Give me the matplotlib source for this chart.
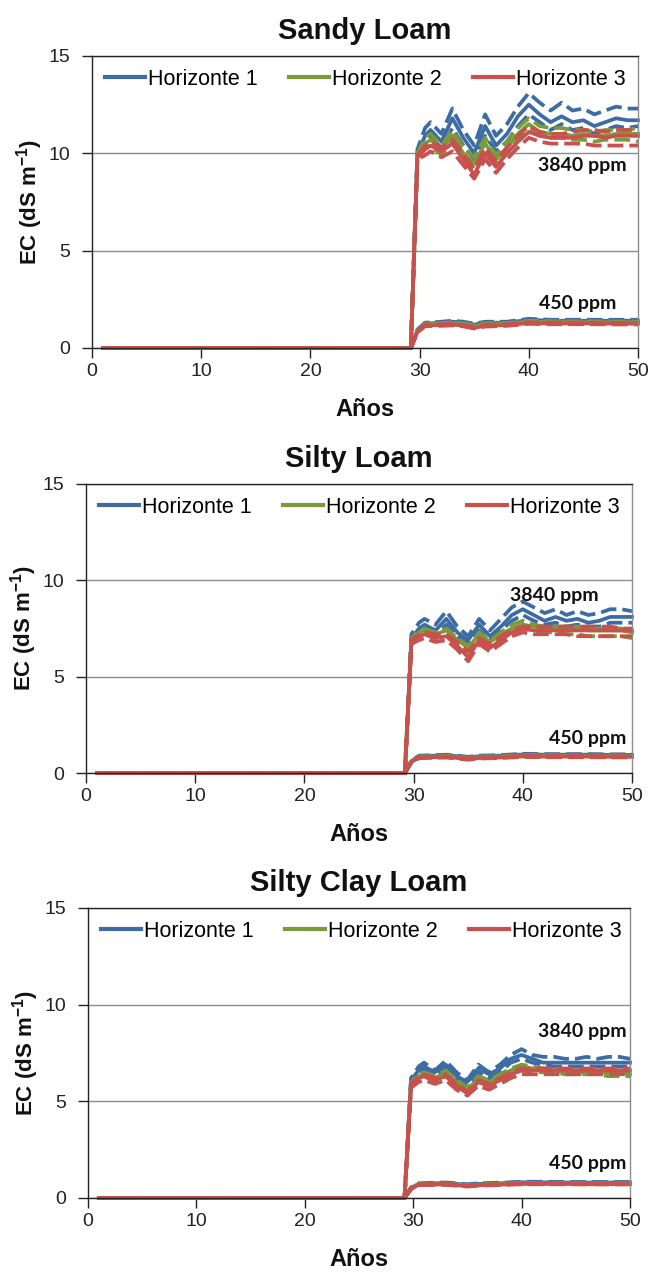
import matplotlib
matplotlib.use("Agg")
import matplotlib.pyplot as plt
from matplotlib.lines import Line2D

# ---------------- data ----------------
years_hi = [1, 29.2, 29.8, 30.5, 31, 32, 33, 34, 35, 36, 37, 38, 39, 40,
            41, 42, 43, 44, 45, 46, 47, 48, 49, 50]
years_lo = [1, 29.2, 29.8, 30.5, 32, 33, 34, 35, 36, 38, 40, 42, 44, 46, 48, 50]

# each list: [lower dashed, solid, upper dashed]
# ---- Sandy Loam, 3840 ppm
sandy_hi_h1 = [
    [0, 0, 9.9, 10.6, 10.8, 10.3, 11.3, 10.4, 9.7, 10.9, 10.1, 10.6, 11.4, 12.0, 11.6, 11.2, 11.5, 11.2, 11.3, 11.0, 11.2, 11.4, 11.3, 11.4],
    [0, 0, 10.0, 10.9, 11.2, 10.6, 11.8, 10.8, 10.0, 11.4, 10.4, 11.0, 11.9, 12.5, 12.0, 11.6, 11.9, 11.6, 11.7, 11.4, 11.6, 11.8, 11.7, 11.7],
    [0, 0, 10.2, 11.3, 11.6, 11.0, 12.3, 11.2, 10.4, 12.0, 10.9, 11.5, 12.4, 13.1, 12.6, 12.2, 12.6, 12.2, 12.3, 12.0, 12.2, 12.4, 12.3, 12.3]]
sandy_hi_h2 = [
    [0, 0, 9.8, 10.3, 10.4, 9.9, 10.6, 9.8, 9.2, 10.2, 9.4, 10.0, 10.7, 11.2, 10.9, 10.8, 10.8, 10.7, 10.7, 10.6, 10.7, 10.7, 10.7, 10.6],
    [0, 0, 9.9, 10.5, 10.7, 10.2, 10.9, 10.0, 9.5, 10.5, 9.7, 10.3, 11.0, 11.5, 11.1, 11.0, 11.0, 10.9, 11.0, 10.9, 10.9, 11.0, 11.0, 11.0],
    [0, 0, 10.0, 10.8, 11.0, 10.4, 11.2, 10.3, 9.8, 10.8, 9.9, 10.6, 11.3, 11.8, 11.4, 11.3, 11.3, 11.2, 11.2, 11.1, 11.2, 11.2, 11.2, 11.3]]
sandy_hi_h3 = [
    [0, 0, 9.7, 9.9, 10.1, 9.8, 10.1, 9.4, 8.7, 9.7, 9.0, 9.7, 10.3, 10.8, 10.6, 10.5, 10.5, 10.5, 10.5, 10.4, 10.4, 10.4, 10.4, 10.4],
    [0, 0, 9.8, 10.2, 10.4, 10.1, 10.5, 9.7, 8.9, 10.0, 9.3, 10.0, 10.6, 11.1, 10.9, 10.8, 10.8, 10.8, 10.9, 10.9, 10.8, 10.9, 10.9, 10.9],
    [0, 0, 9.9, 10.4, 10.6, 10.3, 10.7, 10.0, 9.2, 10.3, 9.6, 10.3, 10.9, 11.4, 11.1, 11.0, 11.0, 11.1, 11.2, 11.2, 11.1, 11.2, 11.2, 11.2]]
# ---- Sandy Loam, 450 ppm
sandy_lo_h1 = [
    [0, 0, 0.85, 1.20, 1.25, 1.30, 1.25, 1.15, 1.25, 1.25, 1.38, 1.35, 1.35, 1.35, 1.35, 1.35],
    [0, 0, 0.90, 1.25, 1.30, 1.35, 1.30, 1.20, 1.30, 1.30, 1.45, 1.40, 1.40, 1.40, 1.40, 1.40],
    [0, 0, 0.95, 1.30, 1.35, 1.40, 1.35, 1.25, 1.35, 1.35, 1.50, 1.45, 1.45, 1.45, 1.45, 1.45]]
sandy_lo_h2 = [
    [0, 0, 0.84, 1.18, 1.21, 1.24, 1.19, 1.09, 1.19, 1.21, 1.31, 1.29, 1.28, 1.28, 1.28, 1.28],
    [0, 0, 0.87, 1.22, 1.25, 1.28, 1.23, 1.13, 1.23, 1.25, 1.35, 1.33, 1.32, 1.32, 1.32, 1.32],
    [0, 0, 0.90, 1.25, 1.28, 1.32, 1.27, 1.17, 1.27, 1.28, 1.40, 1.38, 1.37, 1.37, 1.36, 1.36]]
sandy_lo_h3 = [
    [0, 0, 0.80, 1.12, 1.14, 1.16, 1.11, 1.00, 1.10, 1.14, 1.24, 1.22, 1.22, 1.22, 1.21, 1.21],
    [0, 0, 0.83, 1.16, 1.18, 1.20, 1.15, 1.04, 1.14, 1.18, 1.28, 1.26, 1.26, 1.26, 1.25, 1.25],
    [0, 0, 0.86, 1.20, 1.22, 1.24, 1.19, 1.08, 1.18, 1.22, 1.32, 1.30, 1.30, 1.30, 1.29, 1.29]]

# ---- Silty Loam, 3840 ppm
silty_hi_h1 = [
    [0, 0, 6.9, 7.3, 7.4, 7.2, 7.7, 7.1, 6.7, 7.4, 6.9, 7.4, 7.9, 8.2, 7.9, 7.7, 7.8, 7.6, 7.7, 7.6, 7.6, 7.8, 7.8, 7.8],
    [0, 0, 7.0, 7.5, 7.7, 7.4, 8.0, 7.3, 6.9, 7.7, 7.1, 7.6, 8.2, 8.5, 8.2, 7.9, 8.1, 7.9, 8.0, 7.8, 7.9, 8.1, 8.1, 8.1],
    [0, 0, 7.2, 7.8, 8.0, 7.7, 8.4, 7.6, 7.1, 8.0, 7.4, 8.0, 8.6, 8.9, 8.6, 8.3, 8.5, 8.2, 8.4, 8.2, 8.3, 8.5, 8.5, 8.4]]
silty_hi_h2 = [
    [0, 0, 6.8, 7.1, 7.2, 7.0, 7.2, 6.7, 6.3, 7.0, 6.6, 7.0, 7.3, 7.5, 7.4, 7.3, 7.3, 7.2, 7.2, 7.1, 7.1, 7.1, 7.1, 7.0],
    [0, 0, 6.9, 7.3, 7.4, 7.2, 7.4, 6.9, 6.5, 7.2, 6.8, 7.2, 7.5, 7.7, 7.6, 7.5, 7.5, 7.5, 7.5, 7.4, 7.4, 7.4, 7.4, 7.3],
    [0, 0, 7.0, 7.4, 7.5, 7.3, 7.5, 7.0, 6.6, 7.3, 6.9, 7.3, 7.7, 7.9, 7.7, 7.6, 7.6, 7.6, 7.6, 7.5, 7.5, 7.5, 7.5, 7.4]]
silty_hi_h3 = [
    [0, 0, 6.7, 6.9, 7.0, 6.8, 6.9, 6.4, 5.8, 6.7, 6.3, 6.7, 7.1, 7.3, 7.2, 7.2, 7.2, 7.2, 7.1, 7.1, 7.1, 7.1, 7.1, 7.1],
    [0, 0, 6.8, 7.1, 7.2, 7.0, 7.1, 6.6, 6.0, 6.9, 6.5, 6.9, 7.3, 7.5, 7.4, 7.4, 7.4, 7.4, 7.4, 7.4, 7.4, 7.4, 7.4, 7.4],
    [0, 0, 6.9, 7.2, 7.3, 7.2, 7.2, 6.8, 6.3, 7.0, 6.7, 7.1, 7.4, 7.6, 7.6, 7.6, 7.6, 7.6, 7.6, 7.6, 7.6, 7.6, 7.5, 7.5]]
# ---- Silty Loam, 450 ppm
silty_lo_h1 = [
    [0, 0, 0.59, 0.84, 0.87, 0.89, 0.84, 0.78, 0.84, 0.87, 0.93, 0.92, 0.92, 0.92, 0.91, 0.91],
    [0, 0, 0.62, 0.87, 0.90, 0.92, 0.87, 0.81, 0.87, 0.90, 0.96, 0.95, 0.95, 0.95, 0.94, 0.94],
    [0, 0, 0.65, 0.90, 0.93, 0.95, 0.90, 0.84, 0.90, 0.93, 1.00, 0.98, 0.98, 0.98, 0.97, 0.97]]
silty_lo_h2 = [
    [0, 0, 0.58, 0.80, 0.82, 0.84, 0.79, 0.73, 0.79, 0.82, 0.87, 0.86, 0.86, 0.85, 0.85, 0.85],
    [0, 0, 0.60, 0.83, 0.85, 0.87, 0.82, 0.76, 0.82, 0.85, 0.90, 0.89, 0.89, 0.88, 0.88, 0.88],
    [0, 0, 0.62, 0.86, 0.88, 0.90, 0.85, 0.79, 0.85, 0.88, 0.93, 0.92, 0.92, 0.91, 0.91, 0.91]]
silty_lo_h3 = [
    [0, 0, 0.56, 0.77, 0.79, 0.80, 0.75, 0.69, 0.75, 0.78, 0.83, 0.82, 0.82, 0.82, 0.81, 0.81],
    [0, 0, 0.58, 0.80, 0.82, 0.83, 0.78, 0.72, 0.78, 0.81, 0.86, 0.85, 0.85, 0.85, 0.84, 0.84],
    [0, 0, 0.60, 0.83, 0.85, 0.86, 0.81, 0.75, 0.81, 0.84, 0.89, 0.88, 0.88, 0.88, 0.87, 0.87]]

# ---- Silty Clay Loam, 3840 ppm
clay_hi_h1 = [
    [0, 0, 6.0, 6.5, 6.6, 6.3, 6.7, 6.1, 5.8, 6.5, 6.2, 6.5, 7.0, 7.2, 7.0, 6.9, 6.8, 6.8, 6.8, 6.8, 6.8, 6.8, 6.8, 6.8],
    [0, 0, 6.1, 6.6, 6.8, 6.5, 6.9, 6.3, 6.0, 6.7, 6.4, 6.7, 7.2, 7.4, 7.2, 7.0, 7.0, 7.0, 7.0, 7.0, 7.0, 7.0, 7.0, 7.0],
    [0, 0, 6.2, 6.8, 7.0, 6.6, 7.1, 6.5, 6.1, 6.9, 6.5, 6.9, 7.4, 7.7, 7.4, 7.3, 7.3, 7.2, 7.2, 7.3, 7.2, 7.3, 7.3, 7.2]]
clay_hi_h2 = [
    [0, 0, 5.8, 6.2, 6.3, 6.0, 6.3, 5.8, 5.5, 6.0, 5.8, 6.1, 6.4, 6.6, 6.5, 6.5, 6.5, 6.4, 6.4, 6.4, 6.4, 6.3, 6.3, 6.3],
    [0, 0, 5.9, 6.3, 6.4, 6.2, 6.5, 6.0, 5.6, 6.2, 6.0, 6.3, 6.6, 6.8, 6.7, 6.6, 6.6, 6.5, 6.5, 6.5, 6.5, 6.5, 6.5, 6.4],
    [0, 0, 6.0, 6.4, 6.5, 6.3, 6.6, 6.1, 5.7, 6.3, 6.1, 6.4, 6.7, 6.9, 6.8, 6.7, 6.7, 6.6, 6.6, 6.6, 6.6, 6.6, 6.6, 6.5]]
clay_hi_h3 = [
    [0, 0, 5.7, 6.0, 6.1, 5.9, 6.1, 5.6, 5.3, 5.8, 5.6, 5.9, 6.2, 6.4, 6.4, 6.4, 6.4, 6.4, 6.4, 6.4, 6.4, 6.4, 6.4, 6.4],
    [0, 0, 5.8, 6.2, 6.3, 6.1, 6.3, 5.8, 5.4, 6.0, 5.8, 6.1, 6.4, 6.6, 6.6, 6.6, 6.6, 6.6, 6.6, 6.6, 6.6, 6.6, 6.6, 6.6],
    [0, 0, 5.9, 6.3, 6.4, 6.2, 6.4, 5.9, 5.5, 6.1, 5.9, 6.2, 6.5, 6.7, 6.7, 6.7, 6.7, 6.7, 6.7, 6.7, 6.7, 6.7, 6.7, 6.7]]
# ---- Silty Clay Loam, 450 ppm
clay_lo_h1 = [
    [0, 0, 0.50, 0.70, 0.73, 0.74, 0.70, 0.65, 0.70, 0.73, 0.78, 0.78, 0.77, 0.77, 0.77, 0.77],
    [0, 0, 0.52, 0.73, 0.76, 0.77, 0.73, 0.68, 0.73, 0.76, 0.81, 0.81, 0.80, 0.80, 0.80, 0.80],
    [0, 0, 0.55, 0.76, 0.79, 0.80, 0.76, 0.71, 0.76, 0.79, 0.84, 0.84, 0.83, 0.83, 0.83, 0.83]]
clay_lo_h2 = [
    [0, 0, 0.48, 0.68, 0.70, 0.71, 0.67, 0.62, 0.67, 0.70, 0.74, 0.74, 0.73, 0.73, 0.73, 0.73],
    [0, 0, 0.50, 0.70, 0.72, 0.73, 0.69, 0.64, 0.69, 0.72, 0.76, 0.76, 0.75, 0.75, 0.75, 0.75],
    [0, 0, 0.52, 0.72, 0.74, 0.75, 0.71, 0.66, 0.71, 0.74, 0.78, 0.78, 0.77, 0.77, 0.77, 0.77]]
clay_lo_h3 = [
    [0, 0, 0.46, 0.66, 0.68, 0.68, 0.64, 0.59, 0.64, 0.67, 0.71, 0.71, 0.71, 0.70, 0.70, 0.70],
    [0, 0, 0.48, 0.68, 0.70, 0.70, 0.66, 0.61, 0.66, 0.69, 0.73, 0.73, 0.73, 0.72, 0.72, 0.72],
    [0, 0, 0.50, 0.70, 0.72, 0.72, 0.68, 0.63, 0.68, 0.71, 0.75, 0.75, 0.75, 0.74, 0.74, 0.74]]

titles = ["Sandy Loam", "Silty Loam", "Silty Clay Loam"]
horizon_labels = ["Horizonte 1", "Horizonte 2", "Horizonte 3"]
level_labels = ["3840 ppm", "450 ppm"]
x_ticks = [0, 10, 20, 30, 40, 50]
y_ticks = [0, 5, 10, 15]

# ---------------- style ----------------
colors = ["#3D6BA3", "#7A9A3C", "#C9504D"]
SANS = ["Liberation Sans", "DejaVu Sans"]
LABELF = ["Lato", "DejaVu Sans"]

panels = [
    (titles[0], [sandy_hi_h1, sandy_hi_h2, sandy_hi_h3], [sandy_lo_h1, sandy_lo_h2, sandy_lo_h3],
     [92, 56, 638, 348], (44.9, 9.4), (44.5, 2.3)),
    (titles[1], [silty_hi_h1, silty_hi_h2, silty_hi_h3], [silty_lo_h1, silty_lo_h2, silty_lo_h3],
     [86, 484, 632, 773], (42.9, 9.2), (45.9, 1.8)),
    (titles[2], [clay_hi_h1, clay_hi_h2, clay_hi_h3], [clay_lo_h1, clay_lo_h2, clay_lo_h3],
     [88, 908, 630, 1198], (45.6, 8.6), (46.1, 1.8)),
]

W, H = 651, 1277
fig = plt.figure(figsize=(W / 100, H / 100), dpi=100)
fig.patch.set_facecolor("white")

LW = 2.7
DASH = (4.2, 1.6)

for title, hi, lo, box, pos_hi, pos_lo in panels:
    l, t, r, b = box
    ax = fig.add_axes([l / W, 1 - b / H, (r - l) / W, (b - t) / H])
    ax.set_xlim(0, 50)
    ax.set_ylim(0, 15)
    ax.set_xticks(x_ticks)
    ax.set_yticks(y_ticks)
    ax.yaxis.grid(True, color="#8C8C8C", linewidth=1.0)
    ax.set_axisbelow(True)
    for s in ["left", "bottom", "top"]:
        ax.spines[s].set_color("#222222")
        ax.spines[s].set_linewidth(1.0)
    ax.spines["right"].set_color("#8C8C8C")
    ax.spines["right"].set_linewidth(1.0)
    ax.tick_params(axis="both", direction="out", length=7, width=1.0, color="#222222",
                   labelsize=14)
    ax.tick_params(axis="y", pad=9)
    ax.tick_params(axis="x", pad=4)
    for lab in ax.get_xticklabels() + ax.get_yticklabels():
        lab.set_fontfamily(SANS)
        lab.set_color("#222222")

    for years, series in ((years_lo, lo), (years_hi, hi)):
        for c, trio in zip(colors, series):
            lower, mid, upper = trio
            ax.plot(years, lower, color=c, lw=LW, dashes=DASH, dash_capstyle="butt",
                    dash_joinstyle="round", clip_on=False)
            ax.plot(years, upper, color=c, lw=LW, dashes=DASH, dash_capstyle="butt",
                    dash_joinstyle="round", clip_on=False)
            ax.plot(years, mid, color=c, lw=LW, solid_joinstyle="round", clip_on=False)

    ax.text(pos_hi[0], pos_hi[1], level_labels[0], ha="center", va="center",
            fontsize=14, fontweight="bold", family=LABELF, color="#111111")
    ax.text(pos_lo[0], pos_lo[1], level_labels[1], ha="center", va="center",
            fontsize=14, fontweight="bold", family=LABELF, color="#111111")

    handles = [Line2D([], [], color=c, lw=3.0) for c in colors]
    ax.legend(handles, horizon_labels, loc="upper left", bbox_to_anchor=(0.0, 1.0),
              ncol=3, frameon=False, handlelength=1.85, handletextpad=0.15,
              columnspacing=1.45, borderaxespad=0.2,
              prop={"family": SANS, "size": 15.5})

    ax.set_title(title, fontsize=21, fontweight="bold", family=SANS, pad=12, color="#111111")
    ax.set_xlabel("Años", fontsize=17, fontweight="bold", family=SANS, labelpad=13, color="#111111")
    ax.set_ylabel("EC (dS m$^{\\mathregular{-1}}$)", fontsize=16, fontweight="bold",
                  family=SANS, labelpad=2, color="#111111")

fig.savefig("out.png", dpi=100, facecolor="white")
